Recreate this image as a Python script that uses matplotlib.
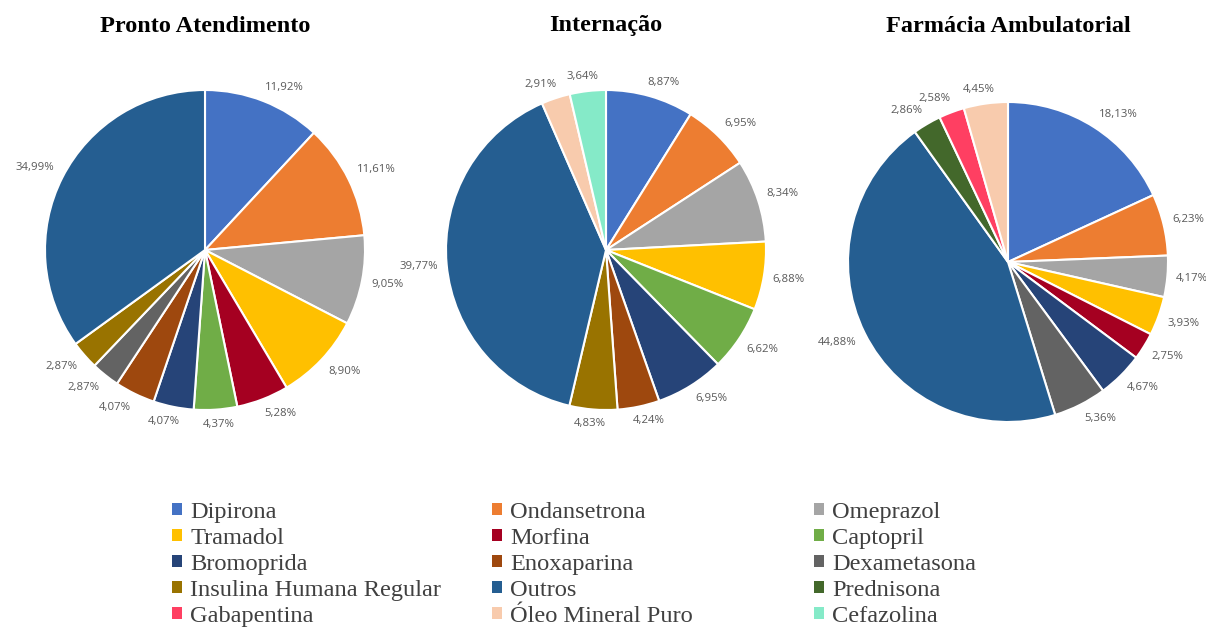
import matplotlib
matplotlib.use('Agg')
import numpy as np
import matplotlib.pyplot as plt
from matplotlib.patches import Patch

# legend order (Excel rows, left to right)
drugs = ['Dipirona', 'Ondansetrona', 'Omeprazol',
         'Tramadol', 'Morfina', 'Captopril',
         'Bromoprida', 'Enoxaparina', 'Dexametasona',
         'Insulina Humana Regular', 'Outros', 'Prednisona',
         'Gabapentina', 'Óleo Mineral Puro', 'Cefazolina']
colors = {'Dipirona': '#4472C4', 'Ondansetrona': '#ED7D31', 'Omeprazol': '#A5A5A5',
          'Tramadol': '#FFC000', 'Morfina': '#A50021', 'Captopril': '#70AD47',
          'Bromoprida': '#264478', 'Enoxaparina': '#9E480E', 'Dexametasona': '#636363',
          'Insulina Humana Regular': '#997300', 'Outros': '#255E91', 'Prednisona': '#43682B',
          'Gabapentina': '#FF3F62', 'Óleo Mineral Puro': '#F8CBAD', 'Cefazolina': '#85EAC8'}

# slices, clockwise from 12 o'clock
pa_names = ['Dipirona', 'Ondansetrona', 'Omeprazol', 'Tramadol', 'Morfina', 'Captopril',
            'Bromoprida', 'Enoxaparina', 'Dexametasona', 'Insulina Humana Regular', 'Outros']
pa_vals = [11.92, 11.61, 9.05, 8.90, 5.28, 4.37, 4.07, 4.07, 2.87, 2.87, 34.99]

int_names = ['Dipirona', 'Ondansetrona', 'Omeprazol', 'Tramadol', 'Captopril', 'Bromoprida',
             'Enoxaparina', 'Insulina Humana Regular', 'Outros', 'Óleo Mineral Puro', 'Cefazolina']
int_vals = [8.87, 6.95, 8.34, 6.88, 6.62, 6.95, 4.24, 4.83, 39.77, 2.91, 3.64]

fa_names = ['Dipirona', 'Ondansetrona', 'Omeprazol', 'Tramadol', 'Morfina', 'Bromoprida',
            'Dexametasona', 'Outros', 'Prednisona', 'Gabapentina', 'Óleo Mineral Puro']
fa_vals = [18.13, 6.23, 4.17, 3.93, 2.75, 4.67, 5.36, 44.88, 2.86, 2.58, 4.45]

titles = ['Pronto Atendimento', 'Internação', 'Farmácia Ambulatorial']
W, H = 1206, 627
R = 160

fig = plt.figure(figsize=(W / 100, H / 100), dpi=100)
labels = []  # (text, mid angle)


def draw_pie(cx, cy, names, vals, title):
    ax = fig.add_axes([(cx - R) / W, (H - cy - R) / H, 2 * R / W, 2 * R / H])
    wedges, _ = ax.pie(vals, colors=[colors[n] for n in names], startangle=90,
                       counterclock=False,
                       wedgeprops=dict(edgecolor='white', linewidth=1.5))
    for w, v in zip(wedges, vals):
        w.set_clip_on(False)
        t = ax.text(0, 0, ('%.2f%%' % v).replace('.', ','), ha='center', va='center',
                    fontsize=8.2, color='#595959', family='Open Sans')
        labels.append((t, np.deg2rad((w.theta1 + w.theta2) / 2)))
    ax.set_xlim(-1, 1)
    ax.set_ylim(-1, 1)
    ax.set_aspect('equal')
    fig.text(cx / W, 1 - 26 / H, title, ha='center', va='center', fontsize=17.5,
             fontweight='bold', family='Liberation Serif')


draw_pie(205, 250, pa_names, pa_vals, titles[0])
draw_pie(606, 250, int_names, int_vals, titles[1])
draw_pie(1008, 262, fa_names, fa_vals, titles[2])

# outside-end labels, Excel style: box pushed off the rim along the slice
fig.canvas.draw()
rend = fig.canvas.get_renderer()
gap, k = 9, 2.5
for t, a in labels:
    bb = t.get_window_extent(rend)
    c, s = np.cos(a), np.sin(a)
    x = (R + gap) * c + bb.width / 2 * np.clip(k * c, -1, 1)
    y = (R + gap) * s + bb.height / 2 * np.clip(k * s, -1, 1)
    t.set_position((x / R, y / R))

# three legend columns with fixed positions
col_x = [172, 492, 814]
for i, x in enumerate(col_x):
    items = drugs[i::3]
    handles = [Patch(facecolor=colors[n], edgecolor='none') for n in items]
    leg = fig.legend(handles, items, loc='upper left', bbox_to_anchor=(x / W, 1 - 502 / H),
                     frameon=False, ncol=1, handlelength=0.4, handleheight=0.4,
                     handletextpad=0.35, labelspacing=0.2, borderaxespad=0, borderpad=0,
                     prop=dict(family='Liberation Serif', size=17.6))
    for t in leg.get_texts():
        t.set_color('#404040')

fig.savefig('out.png', dpi=100)
